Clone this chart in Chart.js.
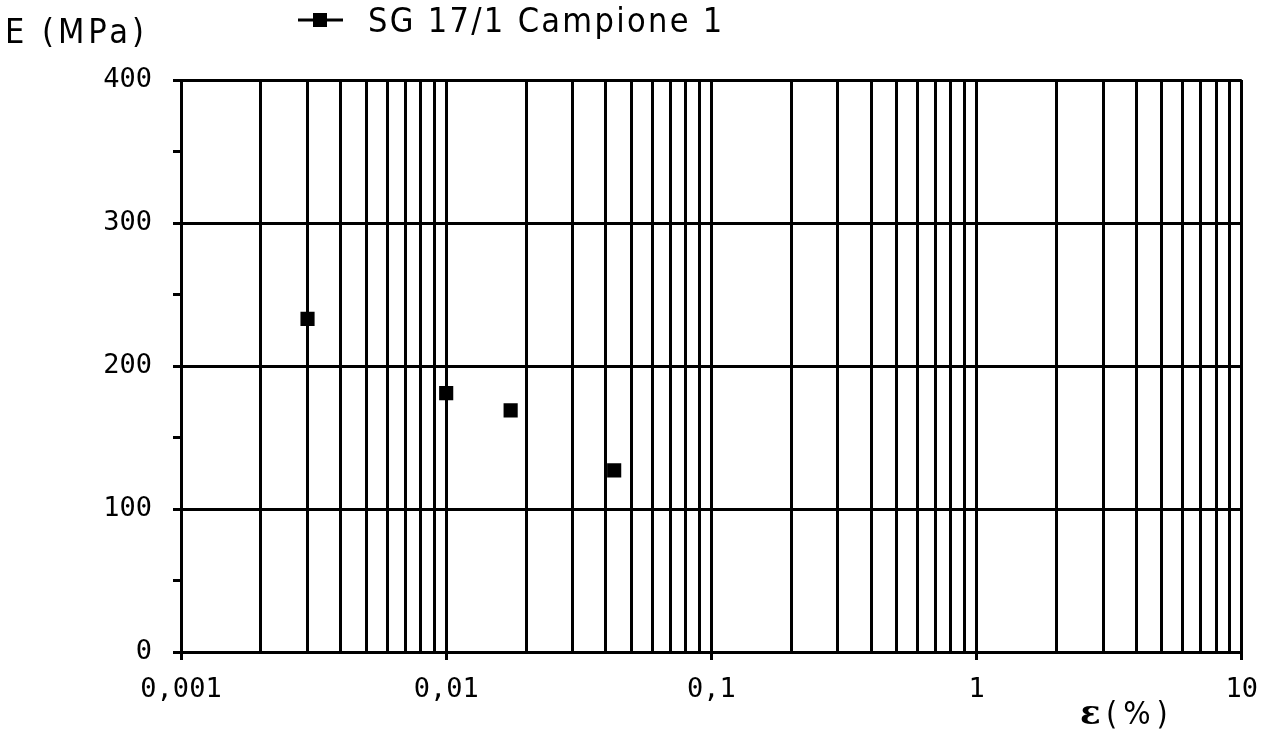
<!DOCTYPE html>
<html><head><meta charset="utf-8">
<script src="https://cdn.jsdelivr.net/npm/chart.js@4/dist/chart.umd.min.js"></script>
<style>html,body{margin:0;padding:0;background:#fff;}canvas{display:block;}</style>
</head><body>
<canvas id="c" width="1272" height="734"></canvas>
<script>
const seriesName = 'SG 17/1 Campione 1';
const yTitle = 'E (MPa)';
const xTitleSymbol = 'ε';
const xTitleUnit = '(%)';
const strainPct = [0.003, 0.01, 0.0175, 0.043];
const modulusMPa = [233, 181, 169, 127];
const xMajorValues = [0.001, 0.01, 0.1, 1, 10];
const xMajorLabels = ['0,001', '0,01', '0,1', '1', '10'];
const gridMultipliers = [1, 2, 3, 4, 5, 6, 7, 8, 9];
const yMin = 0, yMax = 400, yLabelStep = 100, yMinorStep = 50;

const xGridValues = [];
xMajorValues.forEach((m, i) => {
  if (i === xMajorValues.length - 1) { xGridValues.push(m); return; }
  gridMultipliers.forEach(k => xGridValues.push(Number((m * k).toPrecision(6))));
});
const sameLog = (a, b) => Math.abs(Math.log10(a) - Math.log10(b)) < 1e-6;
const isMajor = v => xMajorValues.some(m => sameLog(v, m));
const majorLabel = v => {
  const i = xMajorValues.findIndex(m => sameLog(v, m));
  return i >= 0 ? xMajorLabels[i] : '';
};

const TEXT_FONT = '"DejaVu Sans Condensed", "Liberation Sans Narrow", sans-serif';
const TICK_FONT = '"DejaVu Sans Mono", "Liberation Mono", monospace';

const annot = {
  id: 'annot',
  afterDraw(chart) {
    const ctx = chart.ctx;
    ctx.save();
    ctx.fillStyle = '#000';
    ctx.textBaseline = 'alphabetic';
    ctx.textAlign = 'left';
    ctx.font = '34px ' + TEXT_FONT;
    ctx.letterSpacing = '4px';
    ctx.fillText(yTitle, 5, 43);
    ctx.strokeStyle = '#000';
    ctx.lineWidth = 3;
    ctx.beginPath(); ctx.moveTo(298, 20); ctx.lineTo(343, 20); ctx.stroke();
    ctx.fillRect(313, 13, 14, 14);
    ctx.letterSpacing = '2.3px';
    ctx.fillText(seriesName, 368, 32);
    ctx.letterSpacing = '0px';
    ctx.font = 'bold 34px "DejaVu Serif", serif';
    ctx.fillText(xTitleSymbol, 1080, 724);
    ctx.font = '32px ' + TEXT_FONT;
    ctx.letterSpacing = '6px';
    ctx.fillText(xTitleUnit, 1106, 724);
    ctx.restore();
  }
};

new Chart(document.getElementById('c'), {
  type: 'scatter',
  data: {
    datasets: [{
      label: seriesName,
      data: strainPct.map((x, i) => ({ x, y: modulusMPa[i] })),
      pointStyle: 'rect',
      pointRadius: 10,
      pointHoverRadius: 10,
      backgroundColor: '#000',
      borderColor: '#000',
      borderWidth: 0,
      showLine: false
    }]
  },
  options: {
    responsive: false,
    animation: false,
    devicePixelRatio: 1,
    layout: { padding: { top: 80, right: 29, left: 0, bottom: 0 } },
    plugins: { legend: { display: false }, tooltip: { enabled: false } },
    scales: {
      x: {
        type: 'logarithmic',
        min: xMajorValues[0],
        max: xMajorValues[xMajorValues.length - 1],
        afterBuildTicks: s => { s.ticks = xGridValues.map(v => ({ value: v, major: isMajor(v) })); },
        afterFit: s => { s.height = 82; },
        border: { display: true, color: '#000', width: 3 },
        grid: {
          color: '#000',
          lineWidth: 3,
          tickLength: 8,
          tickColor: c => (c.tick && isMajor(c.tick.value)) ? '#000' : 'rgba(0,0,0,0)'
        },
        ticks: {
          autoSkip: false,
          maxRotation: 0,
          padding: 14,
          color: '#000',
          font: { family: TICK_FONT, size: 27 },
          callback: v => majorLabel(v)
        }
      },
      y: {
        min: yMin,
        max: yMax,
        afterFit: s => { s.width = 181; },
        border: { display: true, color: '#000', width: 3 },
        grid: {
          color: c => (c.tick && c.tick.value % yLabelStep === 0) ? '#000' : 'rgba(0,0,0,0)',
          lineWidth: 3,
          tickLength: 8,
          tickColor: '#000'
        },
        ticks: {
          stepSize: yMinorStep,
          padding: 21,
          color: '#000',
          font: { family: TICK_FONT, size: 27 },
          callback: v => (v % yLabelStep === 0 ? String(v) : '')
        }
      }
    }
  },
  plugins: [annot]
});
</script>
</body></html>
